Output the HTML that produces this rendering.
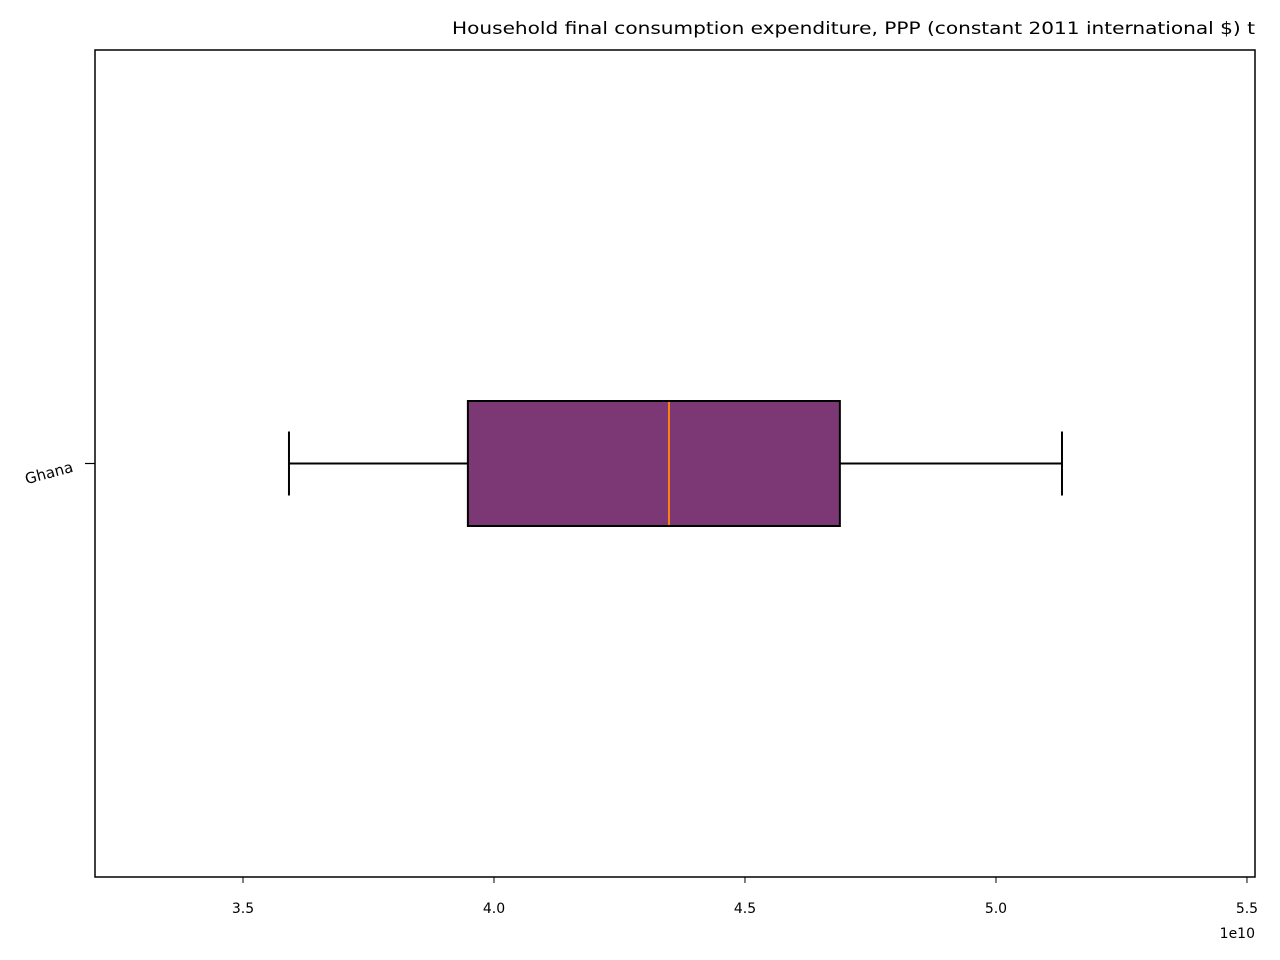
<!DOCTYPE html>
<html><head><meta charset="utf-8"><style>
html,body{margin:0;padding:0;background:#fff;}
svg{display:block;font-family:"DejaVu Sans","Liberation Sans",sans-serif;}
</style></head><body>
<svg id="chart" width="1280" height="960" xmlns="http://www.w3.org/2000/svg"></svg>
<script>
const categories = ["Ghana"];
const whiskerLow = [3.5916];
const q1Values = [3.948];
const medianValues = [4.3486];
const q3Values = [4.689];
const whiskerHigh = [5.1315];
const xTicks = [3.5, 4.0, 4.5, 5.0, 5.5];
const xTickLabels = ["3.5", "4.0", "4.5", "5.0", "5.5"];
const xMin = 3.2052, xMax = 5.516;
const L = 95, R = 1255, T = 50, B = 877;
const NS = "http://www.w3.org/2000/svg";
const svg = document.getElementById('chart');
function x(v){ return L + (v - xMin) / (xMax - xMin) * (R - L); }
function y(i){ return T + (B - T) * (i + 0.5) / categories.length; }
function mk(tag, attrs, parent){ const e = document.createElementNS(NS, tag); for (const k in attrs) e.setAttribute(k, attrs[k]); (parent||svg).appendChild(e); return e; }

const title = mk('text', {x: 1255, y: 34, 'text-anchor': 'end', 'font-size': 17, fill: '#000', textLength: 803, lengthAdjust: 'spacingAndGlyphs'});
title.textContent = "Household final consumption expenditure, PPP (constant 2011 international $) t";



const frame = mk('rect', {x: L, y: T, width: R - L, height: B - T, fill: 'none', stroke: '#000', 'stroke-width': 1.5});



xTicks.forEach((t, i) => {
  const g = mk('g', {});
  
  
  mk('line', {x1: x(t), x2: x(t), y1: B, y2: B + 6, stroke: '#000', 'stroke-width': 1}, g);
  const tx = mk('text', {x: x(t), y: B + 36, 'text-anchor': 'middle', 'font-size': 14, fill: '#000'}, g);
  tx.textContent = xTickLabels[i];
});
const off = mk('text', {x: 1255, y: 938, 'text-anchor': 'end', 'font-size': 14, fill: '#000'});
off.textContent = "1e10";



categories.forEach((c, i) => {
  const cy = y(i), h = 125;
  const g = mk('g', {});
  
  
  mk('line', {x1: L - 10, x2: L, y1: cy, y2: cy, stroke: '#000', 'stroke-width': 1.2}, g);
  const lab = mk('text', {x: 74, y: cy + 8, 'text-anchor': 'end', 'font-size': 15, fill: '#000', transform: `rotate(-15 74 ${cy+8})`}, g);
  lab.textContent = c;
  mk('line', {x1: x(whiskerLow[i]), x2: x(q1Values[i]), y1: cy, y2: cy, stroke: '#000', 'stroke-width': 2}, g);
  mk('line', {x1: x(q3Values[i]), x2: x(whiskerHigh[i]), y1: cy, y2: cy, stroke: '#000', 'stroke-width': 2}, g);
  mk('line', {x1: x(whiskerLow[i]), x2: x(whiskerLow[i]), y1: cy - 32, y2: cy + 32, stroke: '#000', 'stroke-width': 2}, g);
  mk('line', {x1: x(whiskerHigh[i]), x2: x(whiskerHigh[i]), y1: cy - 32, y2: cy + 32, stroke: '#000', 'stroke-width': 2}, g);
  mk('rect', {x: x(q1Values[i]), y: cy - h/2, width: x(q3Values[i]) - x(q1Values[i]), height: h, fill: '#7b3874', stroke: '#000', 'stroke-width': 2}, g);
  mk('line', {x1: x(medianValues[i]), x2: x(medianValues[i]), y1: cy - h/2 + 1, y2: cy + h/2 - 1, stroke: '#ff7f0e', 'stroke-width': 2}, g);
});
</script>
</body></html>
